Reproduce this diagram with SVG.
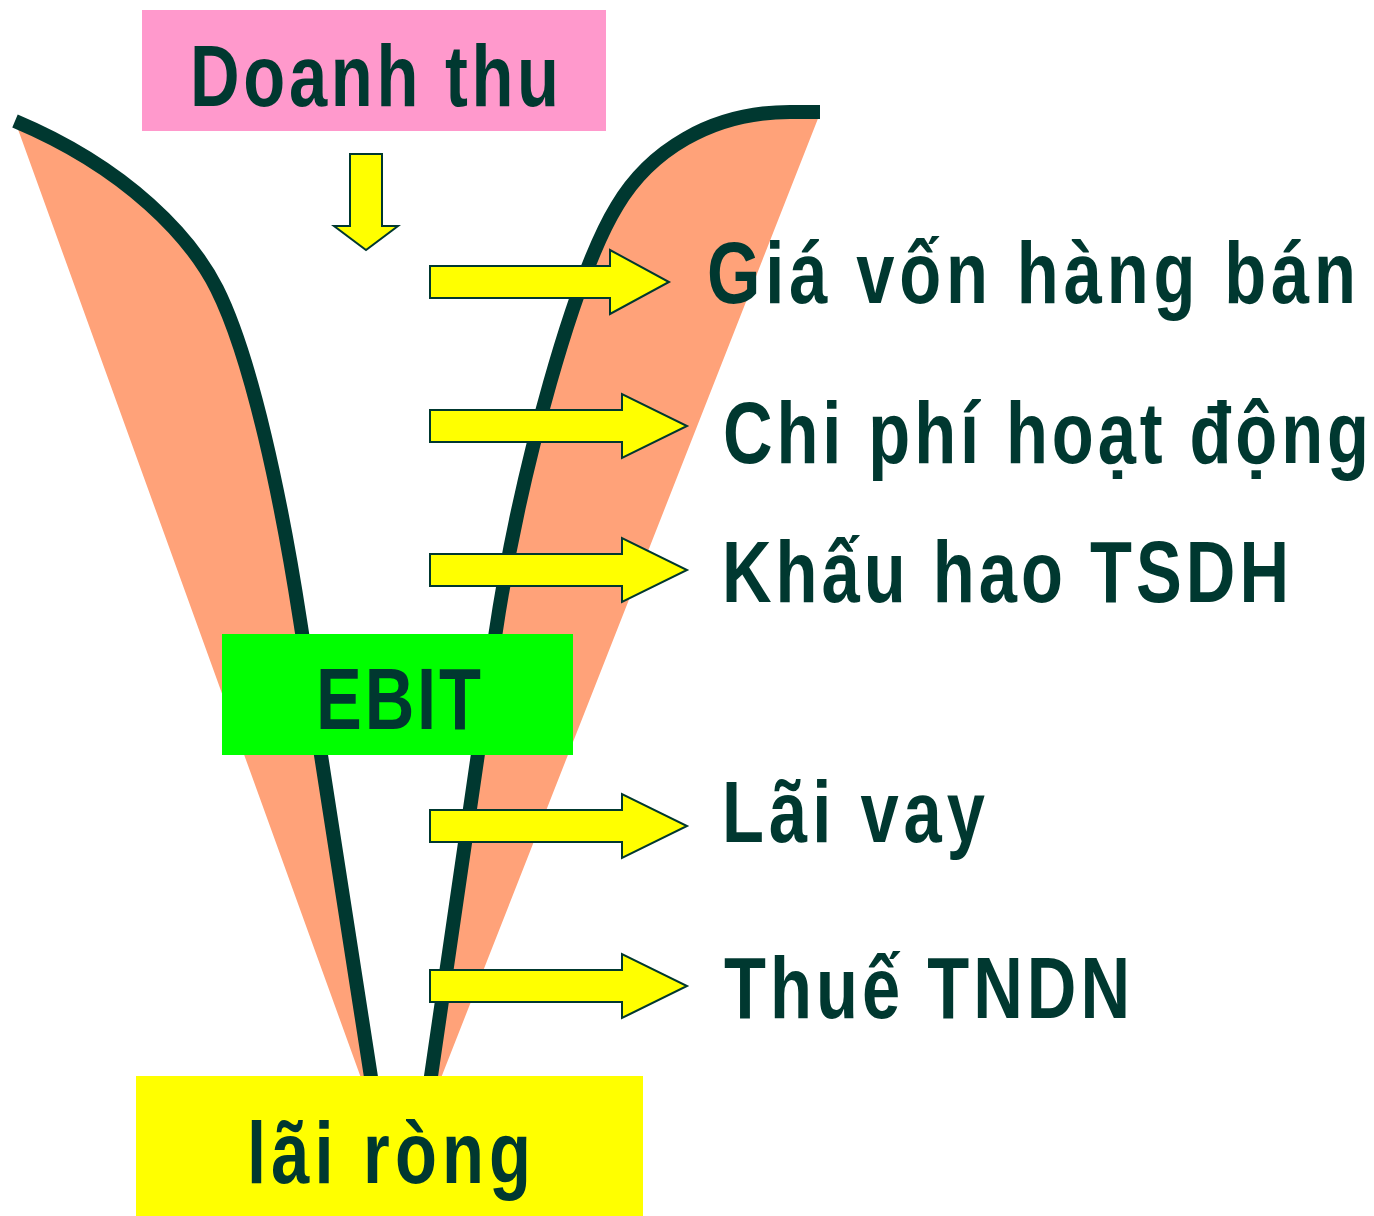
<svg xmlns="http://www.w3.org/2000/svg" width="1374" height="1216" viewBox="0 0 1374 1216">
  <style>
    .lbl { font-family: "Liberation Sans", Arial, sans-serif; font-weight: bold; font-size: 88px; fill: #003830; }
    .fill { fill: #FFA279; stroke: none; }
    .edge { fill: none; stroke: #003830; stroke-width: 14; stroke-linecap: butt; stroke-linejoin: round; }
    .arrow { fill: #FFFF00; stroke: #003830; stroke-width: 2; stroke-linejoin: miter; }
  </style>
  <rect width="1374" height="1216" fill="#FFFFFF"/>

  <g id="funnel">
    <path class="fill" d="M15,121 C129,169 192,239 217,289 C252,359 281.5,500 300,620 L371,1078 L361,1078 Z"/>
    <path class="fill" d="M820,112 L790,112 C710,112 649,152 617,206 C576,273 520,467 495,637 L431,1078 L441,1078 L819,116 Z"/>
    <path class="edge" d="M15,121 C129,169 192,239 217,289 C252,359 281.5,500 300,620 L373,1090"/>
    <path class="edge" d="M820,112 L790,112 C710,112 649,152 617,206 C576,273 520,467 495,637 L429,1090"/>
  </g>

  <g id="node-doanh-thu">
    <rect x="142" y="10" width="464" height="121" fill="#FF99CC"/>
    <text class="lbl" transform="scale(0.78,1)" x="243.6" y="106" font-size="89" textLength="473.1" lengthAdjust="spacing">Doanh thu</text>
  </g>

  <g id="node-ebit">
    <rect x="222" y="634" width="351" height="121" fill="#00FF00"/>
    <text class="lbl" transform="scale(0.78,1)" x="405.1" y="729" textLength="211.5" lengthAdjust="spacing">EBIT</text>
  </g>

  <g id="node-lai-rong">
    <rect x="136" y="1076" width="507" height="140" fill="#FFFF00"/>
    <text class="lbl" transform="scale(0.78,1)" x="316.7" y="1183" textLength="364.1" lengthAdjust="spacing">lãi ròng</text>
  </g>

  <g id="connectors">
    <polygon class="arrow" points="350,154 382,154 382,226 398,226 366,250 334,226 350,226"/>
    <polygon class="arrow" points="430,266 610,266 610,250 669,282 610,314 610,298 430,298"/>
    <polygon class="arrow" points="430,410 622,410 622,394 687,426 622,458 622,442 430,442"/>
    <polygon class="arrow" points="430,554 622,554 622,538 687,570 622,602 622,586 430,586"/>
    <polygon class="arrow" points="430,810 622,810 622,794 687,826 622,858 622,842 430,842"/>
    <polygon class="arrow" points="430,970 622,970 622,954 687,986 622,1018 622,1002 430,1002"/>
  </g>

  <g id="node-gia-von">
    <text class="lbl" transform="scale(0.78,1)" x="906.4" y="303" textLength="832.1" lengthAdjust="spacing">Giá vốn hàng bán</text>
  </g>
  <g id="node-chi-phi">
    <text class="lbl" transform="scale(0.78,1)" x="926.9" y="463" textLength="828.2" lengthAdjust="spacing">Chi phí hoạt động</text>
  </g>
  <g id="node-khau-hao">
    <text class="lbl" transform="scale(0.78,1)" x="925.6" y="602" textLength="726.9" lengthAdjust="spacing">Khấu hao TSDH</text>
  </g>
  <g id="node-lai-vay">
    <text class="lbl" transform="scale(0.78,1)" x="925.6" y="842" textLength="337.2" lengthAdjust="spacing">Lãi vay</text>
  </g>
  <g id="node-thue">
    <text class="lbl" transform="scale(0.78,1)" x="928.2" y="1018" textLength="520.5" lengthAdjust="spacing">Thuế TNDN</text>
  </g>
</svg>
